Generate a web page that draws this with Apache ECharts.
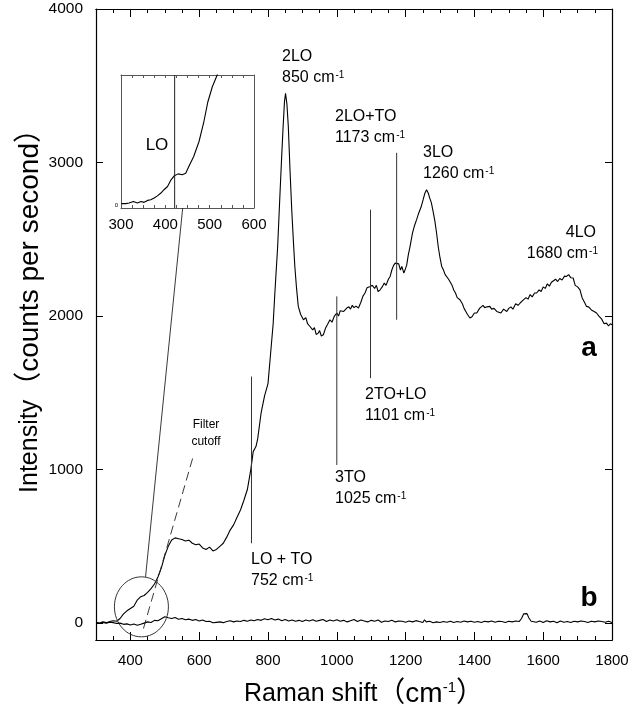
<!DOCTYPE html>
<html><head><meta charset="utf-8">
<script src="https://cdn.jsdelivr.net/npm/echarts@6/dist/echarts.min.js"></script>
<style>html,body{margin:0;padding:0;background:#fff}#c{width:633px;height:715px}</style>
</head><body><div id="c"></div>
<script>
// ---- data ----
const shiftA = [300,310,320,330,340,350,360,370,380,390,400,410,420,430,440,450,460,470,480,490,500,510,520,530,540,550,560,570,580,590,600,610,620,630,640,650,660,670,680,690,700,710,720,730,740,750,757,765,770,780,790,800,806,815,820,828,835,840,844,848,851,855,859,864,869,874,878,883,888,895,903,910,915,922,930,935,940,946,950,955,961,967,973,980,986,993,1000,1005,1010,1015,1020,1029,1035,1040,1045,1050,1056,1063,1070,1076,1082,1088,1092,1097,1103,1110,1115,1120,1126,1132,1138,1143,1150,1155,1160,1165,1170,1174,1180,1185,1189,1195,1198,1203,1208,1213,1220,1226,1232,1238,1245,1251,1256,1261,1266,1270,1275,1280,1285,1290,1295,1300,1305,1310,1315,1320,1325,1329,1335,1340,1345,1350,1358,1365,1370,1375,1380,1387,1393,1400,1407,1415,1420,1425,1430,1437,1445,1450,1457,1465,1470,1477,1485,1494,1500,1506,1512,1520,1527,1533,1540,1545,1550,1556,1562,1568,1575,1581,1588,1594,1600,1606,1612,1618,1624,1629,1636,1642,1648,1655,1662,1668,1674,1680,1687,1693,1700,1707,1713,1720,1726,1732,1740,1748,1755,1762,1770,1777,1784,1790,1795,1800];
const intensityA = [5,0,8,3,10,15,12,30,60,80,95,110,150,172,180,200,225,255,300,360,440,500,541,555,550,545,535,540,520,510,515,490,480,495,470,480,500,520,560,606,640,690,737,800,870,1000,1117,1150,1200,1370,1480,1560,1715,1950,2152,2450,2804,3050,3236,3400,3450,3380,3236,2950,2693,2480,2323,2180,2063,2010,1976,1990,1950,1932,1910,1925,1880,1889,1905,1870,1878,1920,1945,1976,1960,2000,2020,2000,2035,2040,2030,2052,2060,2045,2070,2055,2065,2052,2090,2130,2150,2185,2175,2193,2200,2180,2200,2160,2171,2190,2215,2200,2240,2258,2300,2330,2345,2356,2340,2300,2323,2280,2269,2330,2400,2454,2540,2590,2628,2670,2710,2758,2800,2823,2800,2770,2737,2680,2620,2541,2450,2380,2323,2300,2270,2280,2240,2237,2200,2170,2150,2120,2106,2080,2050,2030,2010,1987,1995,2020,2020,2050,2040,2070,2055,2060,2063,2045,2050,2030,2040,2020,2045,2030,2050,2060,2045,2080,2070,2085,2100,2090,2120,2110,2140,2125,2150,2150,2170,2160,2190,2180,2210,2195,2220,2215,2240,2225,2245,2235,2260,2258,2270,2250,2248,2200,2190,2171,2120,2090,2063,2060,2040,2030,2020,2000,1980,1950,1954,1935,1950,1943];

const shiftB = [300,310,320,330,340,350,360,370,380,390,400,410,420,430,440,450,460,470,480,490,500,505,510,520,530,540,550,560,570,580,590,600,610,620,630,640,650,660,670,680,690,700,710,720,730,740,750,760,770,780,790,800,810,820,830,840,850,860,870,880,890,900,910,920,930,940,950,960,970,980,990,1000,1010,1020,1030,1040,1050,1060,1070,1080,1090,1100,1110,1120,1130,1140,1150,1160,1170,1180,1190,1200,1210,1220,1230,1240,1250,1255,1260,1270,1280,1290,1300,1310,1320,1330,1340,1350,1360,1370,1380,1390,1400,1410,1420,1430,1440,1450,1460,1470,1480,1490,1500,1510,1520,1530,1537,1543,1548,1553,1558,1565,1570,1580,1590,1600,1610,1620,1630,1640,1650,1660,1670,1680,1690,1700,1710,1720,1730,1740,1750,1760,1770,1780,1790,1800];
const intensityB = [2,-3,4,0,6,3,-2,0,-8,-5,-12,-6,-14,-8,0,8,4,18,15,28,42,38,35,30,36,25,30,22,26,18,24,14,20,10,12,2,5,8,3,10,15,8,14,10,18,12,20,15,24,18,28,22,30,20,26,16,24,14,20,12,18,10,20,14,22,12,18,24,10,20,14,22,12,18,8,16,24,10,20,14,8,18,12,20,6,14,10,18,8,14,12,6,14,8,16,10,4,22,8,12,2,8,4,10,6,12,4,10,6,14,8,12,6,10,4,12,8,14,6,12,10,4,12,8,14,10,30,60,72,62,35,12,18,6,14,4,16,8,12,2,14,6,10,4,12,8,14,10,4,12,8,14,10,6,12,4];

// inset (zoom of the LO region)
const insetShift = [301,311,318,328,337,345,352,360,367,375,382,390,397,405,412,420,429,438,446,453,464,476,487,496,506,517,525];
const insetIntensity = [8,8,11,18,11,18,14,23,26,34,44,57,72,87,115,136,145,141,148,179,225,294,386,477,546,600,680];

// assignment markers: [position, lower, upper]
const markerPos   = [752, 1000, 1098, 1174];
const markerLow   = [520, 1030, 1596, 1976];
const markerHigh  = [1606, 2128, 2693, 3063];
const filterCutoff = [[438,-35],[581,1074]];
const connector = [[444,300],[552,2704]];
const insetMarker = 421;

const xMajor = [400,600,800,1000,1200,1400,1600,1800];
const yMajor = [0,1000,2000,3000,4000];
const insetLabels = [300,400,500,600];

// ---- chart ----
const FONT = '"Liberation Sans", Arial, "Noto Sans CJK JP", sans-serif';
const chart = echarts.init(document.getElementById('c'), null, {renderer:'canvas'});
const pairs = (xs, ys) => xs.map((x,i)=>[x, ys[i]]);
const lineS = (data, extra) => Object.assign({type:'line', data, symbol:'none', silent:true, animation:false,
  lineStyle:{color:'#000', width:1.1}, xAxisIndex:0, yAxisIndex:0, z:3}, extra||{});

const series = [
  lineS(pairs(shiftA, intensityA)),
  lineS(pairs(shiftB, intensityB)),
  lineS(filterCutoff, {lineStyle:{color:'#222', width:0.9, type:[9,5]}}),
  lineS(connector, {lineStyle:{color:'#222', width:0.9}}),
];
markerPos.forEach((p,i)=>series.push(lineS([[p,markerLow[i]],[p,markerHigh[i]]], {lineStyle:{color:'#333', width:1}})));
series.push(lineS(pairs(insetShift, insetIntensity), {xAxisIndex:4, yAxisIndex:2, lineStyle:{color:'#000', width:1.1}, clip:true}));
series.push(lineS([[insetMarker,-12],[insetMarker,600]], {xAxisIndex:4, yAxisIndex:2, lineStyle:{color:'#222', width:1}}));

const plain = v => String(v);
const axLine = {show:true, onZero:false, lineStyle:{color:'#000', width:1.2}};
const inLine = {show:true, onZero:false, lineStyle:{color:'#555', width:1}};
const noLabel = {show:false};
const option = {
  animation:false,
  backgroundColor:'#fff',
  grid:[
    {left:96, right:21, top:9, bottom:75},
    {left:121, top:75, width:133, height:133}
  ],
  xAxis:[
    {type:'value', gridIndex:0, position:'bottom', min:300, max:1800, axisLine:axLine, splitLine:{show:false},
     axisTick:{inside:true, length:8, customValues:xMajor, lineStyle:{color:'#000'}},
     axisLabel:{customValues:xMajor, formatter:plain, fontSize:15, color:'#000', fontFamily:FONT, margin:13}},
    {type:'value', gridIndex:0, position:'bottom', min:300, max:1800, interval:50, axisLine:axLine, splitLine:{show:false},
     axisTick:{inside:true, length:4, lineStyle:{color:'#000'}}, axisLabel:noLabel},
    {type:'value', gridIndex:0, position:'top', min:300, max:1800, axisLine:axLine, splitLine:{show:false},
     axisTick:{inside:true, length:8, customValues:xMajor, lineStyle:{color:'#000'}}, axisLabel:noLabel},
    {type:'value', gridIndex:0, position:'top', min:300, max:1800, interval:50, axisLine:axLine, splitLine:{show:false},
     axisTick:{inside:true, length:4, lineStyle:{color:'#000'}}, axisLabel:noLabel},
    {type:'value', gridIndex:1, position:'bottom', min:300, max:600, interval:25, axisLine:inLine, splitLine:{show:false},
     axisTick:{inside:true, length:3, lineStyle:{color:'#555'}},
     axisLabel:{customValues:insetLabels, formatter:plain, fontSize:15, color:'#000', fontFamily:FONT, margin:9}},
    {type:'value', gridIndex:1, position:'top', min:300, max:600, interval:25, axisLine:inLine, splitLine:{show:false},
     axisTick:{inside:true, length:3, lineStyle:{color:'#555'}}, axisLabel:noLabel}
  ],
  yAxis:[
    {type:'value', gridIndex:0, position:'left', min:-110, max:4000, axisLine:axLine, splitLine:{show:false},
     axisTick:{inside:true, length:7, customValues:yMajor, lineStyle:{color:'#000'}},
     axisLabel:{customValues:yMajor, formatter:plain, fontSize:15.5, color:'#000', fontFamily:FONT, margin:13}},
    {type:'value', gridIndex:0, position:'right', min:-110, max:4000, axisLine:axLine, splitLine:{show:false},
     axisTick:{inside:true, length:7, customValues:yMajor, lineStyle:{color:'#000'}}, axisLabel:noLabel},
    {type:'value', gridIndex:1, position:'left', min:-12, max:600, axisLine:inLine, splitLine:{show:false},
     axisTick:{show:false},
     axisLabel:{customValues:[0], formatter:plain, fontSize:6, color:'#000', fontFamily:FONT, margin:3}},
    {type:'value', gridIndex:1, position:'right', min:-12, max:600, axisLine:inLine, splitLine:{show:false},
     axisTick:{show:false}, axisLabel:noLabel}
  ],
  series
};
chart.setOption(option);

// ---- annotations ----
const rich = {
  n:{fontSize:16, fontFamily:FONT, color:'#000'},
  s:{fontSize:10, fontFamily:FONT, color:'#000', verticalAlign:'top', padding:[0,0,0,1]}
};
function txt(x, y, text, align){
  return {type:'text', x, y, z:20, silent:true,
    style:{text, rich, fill:'#000', font:'16px '+FONT, align:align||'left', verticalAlign:'middle'}};
}
const labels = [
  [282,57,'{n|2LO}'],[282,78,'{n|850 cm}{s|-1}'],
  [335,117,'{n|2LO+TO}'],[335,138,'{n|1173 cm}{s|-1}'],
  [423,153,'{n|3LO}'],[423,174,'{n|1260 cm}{s|-1}'],
  [365,395,'{n|2TO+LO}'],[365,416,'{n|1101 cm}{s|-1}'],
  [335,478,'{n|3TO}'],[335,499,'{n|1025 cm}{s|-1}'],
  [251,560,'{n|LO + TO}'],[251,581,'{n|752 cm}{s|-1}']
];
const graphics = labels.map(l=>txt(l[0],l[1],l[2],'left'));
graphics.push(txt(596,233,'{n|4LO}','right'));
graphics.push(txt(598,254,'{n|1680 cm}{s|-1}','right'));
graphics.push({type:'text', x:589, y:348, z:20, style:{text:'a', fill:'#000', font:'bold 28px '+FONT, align:'center', verticalAlign:'middle'}});
graphics.push({type:'text', x:589, y:598, z:20, style:{text:'b', fill:'#000', font:'bold 28px '+FONT, align:'center', verticalAlign:'middle'}});
graphics.push({type:'text', x:206, y:425, z:20, style:{text:'Filter', fill:'#000', font:'12px '+FONT, align:'center', verticalAlign:'middle'}});
graphics.push({type:'text', x:206, y:442, z:20, style:{text:'cutoff', fill:'#000', font:'12px '+FONT, align:'center', verticalAlign:'middle'}});
graphics.push({type:'text', x:157, y:145, z:20, style:{text:'LO', fill:'#000', font:'17px '+FONT, align:'center', verticalAlign:'middle'}});

// axis titles
const titleRich = {
  t:{fontSize:25, fontFamily:FONT, color:'#000'},
  p:{fontSize:28, fontFamily:FONT, color:'#000'},
  s:{fontSize:15, fontFamily:FONT, color:'#000', verticalAlign:'top'}
};
graphics.push({type:'text', x:364, y:694, z:20, style:{text:'{t|Raman shift}{p|（cm}{s|-1}{p|）}', rich:titleRich, align:'center', verticalAlign:'middle'}});
graphics.push({type:'text', x:30, y:304, rotation:Math.PI/2, z:20, style:{text:'{t|Intensity}{p|（counts per second）}', rich:titleRich, align:'center', verticalAlign:'middle'}});

// circle around the LO region (placed via data coordinates)
const cen = chart.convertToPixel({xAxisIndex:0, yAxisIndex:0}, [432,106]);
graphics.push({type:'ellipse', z:4, silent:true, shape:{cx:cen[0], cy:cen[1], rx:27, ry:30}, style:{fill:'none', stroke:'#333', lineWidth:1}});

chart.setOption({graphic:graphics});
</script></body></html>
